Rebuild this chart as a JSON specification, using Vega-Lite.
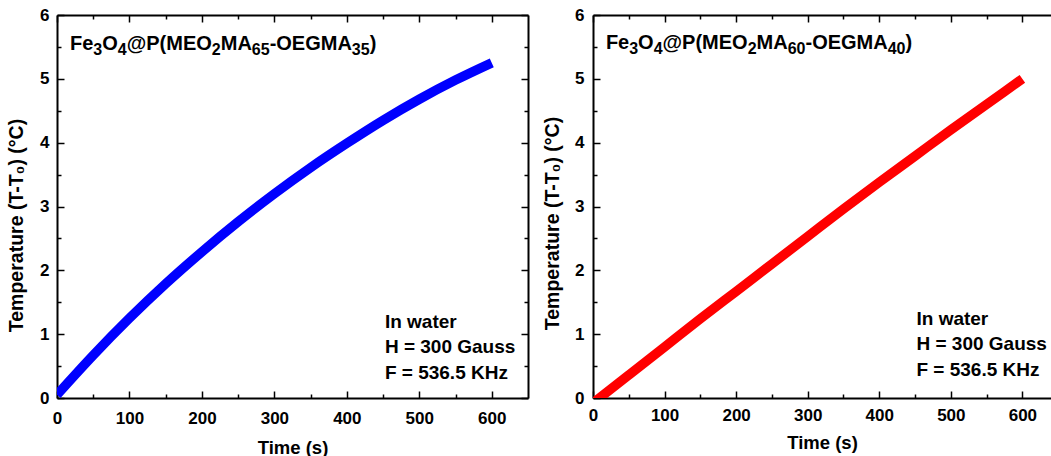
{
  "$schema": "https://vega.github.io/schema/vega-lite/v6.json",
  "padding": {"left": 6, "top": 6, "right": 0, "bottom": 0},
  "background": "white",
  "spacing": 65,
  "bounds": "flush",
  "datasets": {
    "a": [
      {"t": 0, "T": 0.05}, {"t": 50, "T": 0.67}, {"t": 100, "T": 1.25}, {"t": 150, "T": 1.79},
      {"t": 200, "T": 2.29}, {"t": 250, "T": 2.76}, {"t": 300, "T": 3.20}, {"t": 350, "T": 3.61},
      {"t": 400, "T": 3.99}, {"t": 450, "T": 4.35}, {"t": 500, "T": 4.68}, {"t": 550, "T": 4.98},
      {"t": 600, "T": 5.25}
    ],
    "b": [
      {"t": 0, "T": -0.08}, {"t": 50, "T": 0.36}, {"t": 100, "T": 0.80}, {"t": 150, "T": 1.24},
      {"t": 200, "T": 1.67}, {"t": 250, "T": 2.10}, {"t": 300, "T": 2.53}, {"t": 350, "T": 2.96},
      {"t": 400, "T": 3.38}, {"t": 450, "T": 3.79}, {"t": 500, "T": 4.20}, {"t": 550, "T": 4.60},
      {"t": 600, "T": 5.00}
    ],
    "one": [{}]
  },
  "hconcat": [
    {
      "width": 471,
      "height": 383,
      "layer": [
        {
          "data": {"name": "a"},
          "mark": {"type": "line", "color": "#0000ff", "strokeWidth": 9.5, "strokeCap": "butt", "interpolate": "monotone", "clip": true},
          "encoding": {
            "x": {"field": "t", "type": "quantitative", "scale": {"domain": [0, 650]},
              "axis": {"orient": "bottom", "values": [0,100,200,300,400,500,600], "format": "d", "tickSize": -7,
                "labelPadding": 19, "title": "Time (s)", "titlePadding": 12}},
            "y": {"field": "T", "type": "quantitative", "scale": {"domain": [0, 6]},
              "axis": {"orient": "left", "values": [0,1,2,3,4,5,6], "format": "d", "tickSize": -7,
                "labelPadding": 15, "title": "Temperature (T-T₀) (°C)", "titlePadding": 13, "titleY": 210}}
          }
        },
        {
          "data": {"name": "a"},
          "mark": {"type": "line", "opacity": 0},
          "encoding": {
            "x": {"field": "t", "type": "quantitative", "scale": {"domain": [0, 650]},
              "axis": {"orient": "bottom", "values": [50,150,250,350,450,550], "labels": false, "title": null, "domain": false, "tickSize": -4}},
            "y": {"field": "T", "type": "quantitative", "scale": {"domain": [0, 6]},
              "axis": {"orient": "left", "values": [0.5,1.5,2.5,3.5,4.5,5.5], "labels": false, "title": null, "domain": false, "tickSize": -4}}
          }
        },
        {
          "data": {"name": "a"},
          "mark": {"type": "line", "opacity": 0},
          "encoding": {
            "x": {"field": "t", "type": "quantitative", "scale": {"domain": [0, 650]},
              "axis": {"orient": "top", "values": [0,100,200,300,400,500,600], "labels": false, "title": null, "tickSize": -7}},
            "y": {"field": "T", "type": "quantitative", "scale": {"domain": [0, 6]},
              "axis": {"orient": "right", "values": [0,1,2,3,4,5,6], "labels": false, "title": null, "tickSize": -7}}
          }
        },
        {
          "data": {"name": "a"},
          "mark": {"type": "line", "opacity": 0},
          "encoding": {
            "x": {"field": "t", "type": "quantitative", "scale": {"domain": [0, 650]},
              "axis": {"orient": "top", "values": [50,150,250,350,450,550], "labels": false, "title": null, "domain": false, "tickSize": -4}},
            "y": {"field": "T", "type": "quantitative", "scale": {"domain": [0, 6]},
              "axis": {"orient": "right", "values": [0.5,1.5,2.5,3.5,4.5,5.5], "labels": false, "title": null, "domain": false, "tickSize": -4}}
          }
        },
        {"data": {"name": "one"}, "mark": {"type": "text", "text": "Fe", "align": "left", "baseline": "alphabetic", "fontSize": 20, "fontWeight": "bold", "color": "black", "dx": 0},
          "encoding": {"x": {"datum": 18, "type": "quantitative", "scale": {"domain": [0, 650]}, "axis": null}, "y": {"datum": 5.45, "type": "quantitative", "scale": {"domain": [0, 6]}, "axis": null}}},
        {"data": {"name": "one"}, "mark": {"type": "text", "text": "3", "align": "left", "baseline": "alphabetic", "fontSize": 16, "fontWeight": "bold", "color": "black", "dx": 23.3, "dy": 5},
          "encoding": {"x": {"datum": 18, "type": "quantitative", "scale": {"domain": [0, 650]}, "axis": null}, "y": {"datum": 5.45, "type": "quantitative", "scale": {"domain": [0, 6]}, "axis": null}}},
        {"data": {"name": "one"}, "mark": {"type": "text", "text": "O", "align": "left", "baseline": "alphabetic", "fontSize": 20, "fontWeight": "bold", "color": "black", "dx": 32.2},
          "encoding": {"x": {"datum": 18, "type": "quantitative", "scale": {"domain": [0, 650]}, "axis": null}, "y": {"datum": 5.45, "type": "quantitative", "scale": {"domain": [0, 6]}, "axis": null}}},
        {"data": {"name": "one"}, "mark": {"type": "text", "text": "4", "align": "left", "baseline": "alphabetic", "fontSize": 16, "fontWeight": "bold", "color": "black", "dx": 47.8, "dy": 5},
          "encoding": {"x": {"datum": 18, "type": "quantitative", "scale": {"domain": [0, 650]}, "axis": null}, "y": {"datum": 5.45, "type": "quantitative", "scale": {"domain": [0, 6]}, "axis": null}}},
        {"data": {"name": "one"}, "mark": {"type": "text", "text": "@P(MEO", "align": "left", "baseline": "alphabetic", "fontSize": 20, "fontWeight": "bold", "color": "black", "dx": 56.7},
          "encoding": {"x": {"datum": 18, "type": "quantitative", "scale": {"domain": [0, 650]}, "axis": null}, "y": {"datum": 5.45, "type": "quantitative", "scale": {"domain": [0, 6]}, "axis": null}}},
        {"data": {"name": "one"}, "mark": {"type": "text", "text": "2", "align": "left", "baseline": "alphabetic", "fontSize": 16, "fontWeight": "bold", "color": "black", "dx": 141.8, "dy": 5},
          "encoding": {"x": {"datum": 18, "type": "quantitative", "scale": {"domain": [0, 650]}, "axis": null}, "y": {"datum": 5.45, "type": "quantitative", "scale": {"domain": [0, 6]}, "axis": null}}},
        {"data": {"name": "one"}, "mark": {"type": "text", "text": "MA", "align": "left", "baseline": "alphabetic", "fontSize": 20, "fontWeight": "bold", "color": "black", "dx": 150.7},
          "encoding": {"x": {"datum": 18, "type": "quantitative", "scale": {"domain": [0, 650]}, "axis": null}, "y": {"datum": 5.45, "type": "quantitative", "scale": {"domain": [0, 6]}, "axis": null}}},
        {"data": {"name": "one"}, "mark": {"type": "text", "text": "65", "align": "left", "baseline": "alphabetic", "fontSize": 16, "fontWeight": "bold", "color": "black", "dx": 181.8, "dy": 5},
          "encoding": {"x": {"datum": 18, "type": "quantitative", "scale": {"domain": [0, 650]}, "axis": null}, "y": {"datum": 5.45, "type": "quantitative", "scale": {"domain": [0, 6]}, "axis": null}}},
        {"data": {"name": "one"}, "mark": {"type": "text", "text": "-OEGMA", "align": "left", "baseline": "alphabetic", "fontSize": 20, "fontWeight": "bold", "color": "black", "dx": 199.6},
          "encoding": {"x": {"datum": 18, "type": "quantitative", "scale": {"domain": [0, 650]}, "axis": null}, "y": {"datum": 5.45, "type": "quantitative", "scale": {"domain": [0, 6]}, "axis": null}}},
        {"data": {"name": "one"}, "mark": {"type": "text", "text": "35", "align": "left", "baseline": "alphabetic", "fontSize": 16, "fontWeight": "bold", "color": "black", "dx": 281.8, "dy": 5},
          "encoding": {"x": {"datum": 18, "type": "quantitative", "scale": {"domain": [0, 650]}, "axis": null}, "y": {"datum": 5.45, "type": "quantitative", "scale": {"domain": [0, 6]}, "axis": null}}},
        {"data": {"name": "one"}, "mark": {"type": "text", "text": ")", "align": "left", "baseline": "alphabetic", "fontSize": 20, "fontWeight": "bold", "color": "black", "dx": 299.6},
          "encoding": {"x": {"datum": 18, "type": "quantitative", "scale": {"domain": [0, 650]}, "axis": null}, "y": {"datum": 5.45, "type": "quantitative", "scale": {"domain": [0, 6]}, "axis": null}}},
        {
          "data": {"name": "one"},
          "mark": {"type": "text", "text": ["In water", "H = 300 Gauss", "F = 536.5 KHz"], "lineHeight": 25.5, "align": "left", "baseline": "alphabetic", "fontSize": 19, "fontWeight": "bold", "color": "black"},
          "encoding": {
            "x": {"datum": 452.5, "type": "quantitative", "scale": {"domain": [0, 650]}, "axis": null},
            "y": {"datum": 1.10, "type": "quantitative", "scale": {"domain": [0, 6]}, "axis": null}
          }
        }
      ],
      "resolve": {"axis": {"x": "independent", "y": "independent"}}
    },
    {
      "width": 458,
      "height": 383,
      "layer": [
        {
          "data": {"name": "b"},
          "mark": {"type": "line", "color": "#ff0000", "strokeWidth": 9.5, "strokeCap": "butt", "interpolate": "monotone", "clip": true},
          "encoding": {
            "x": {"field": "t", "type": "quantitative", "scale": {"domain": [0, 640]},
              "axis": {"orient": "bottom", "values": [0,100,200,300,400,500,600], "format": "d", "tickSize": -7,
                "labelPadding": 16, "title": "Time (s)", "titlePadding": 10}},
            "y": {"field": "T", "type": "quantitative", "scale": {"domain": [0, 6]},
              "axis": {"orient": "left", "values": [0,1,2,3,4,5,6], "format": "d", "tickSize": -7,
                "labelPadding": 16, "title": "Temperature (T-T₀) (°C)", "titlePadding": 12, "titleY": 208}}
          }
        },
        {
          "data": {"name": "b"},
          "mark": {"type": "line", "opacity": 0},
          "encoding": {
            "x": {"field": "t", "type": "quantitative", "scale": {"domain": [0, 640]},
              "axis": {"orient": "bottom", "values": [50,150,250,350,450,550], "labels": false, "title": null, "domain": false, "tickSize": -4}},
            "y": {"field": "T", "type": "quantitative", "scale": {"domain": [0, 6]},
              "axis": {"orient": "left", "values": [0.5,1.5,2.5,3.5,4.5,5.5], "labels": false, "title": null, "domain": false, "tickSize": -4}}
          }
        },
        {
          "data": {"name": "b"},
          "mark": {"type": "line", "opacity": 0},
          "encoding": {
            "x": {"field": "t", "type": "quantitative", "scale": {"domain": [0, 640]},
              "axis": {"orient": "top", "values": [0,100,200,300,400,500,600], "labels": false, "title": null, "tickSize": -7}},
            "y": {"field": "T", "type": "quantitative", "scale": {"domain": [0, 6]}, "axis": null}
          }
        },
        {
          "data": {"name": "b"},
          "mark": {"type": "line", "opacity": 0},
          "encoding": {
            "x": {"field": "t", "type": "quantitative", "scale": {"domain": [0, 640]},
              "axis": {"orient": "top", "values": [50,150,250,350,450,550], "labels": false, "title": null, "domain": false, "tickSize": -4}},
            "y": {"field": "T", "type": "quantitative", "scale": {"domain": [0, 6]}, "axis": null}
          }
        },
        {"data": {"name": "one"}, "mark": {"type": "text", "text": "Fe", "align": "left", "baseline": "alphabetic", "fontSize": 20, "fontWeight": "bold", "color": "black", "dx": 0},
          "encoding": {"x": {"datum": 18, "type": "quantitative", "scale": {"domain": [0, 640]}, "axis": null}, "y": {"datum": 5.46, "type": "quantitative", "scale": {"domain": [0, 6]}, "axis": null}}},
        {"data": {"name": "one"}, "mark": {"type": "text", "text": "3", "align": "left", "baseline": "alphabetic", "fontSize": 16, "fontWeight": "bold", "color": "black", "dx": 23.3, "dy": 5},
          "encoding": {"x": {"datum": 18, "type": "quantitative", "scale": {"domain": [0, 640]}, "axis": null}, "y": {"datum": 5.46, "type": "quantitative", "scale": {"domain": [0, 6]}, "axis": null}}},
        {"data": {"name": "one"}, "mark": {"type": "text", "text": "O", "align": "left", "baseline": "alphabetic", "fontSize": 20, "fontWeight": "bold", "color": "black", "dx": 32.2},
          "encoding": {"x": {"datum": 18, "type": "quantitative", "scale": {"domain": [0, 640]}, "axis": null}, "y": {"datum": 5.46, "type": "quantitative", "scale": {"domain": [0, 6]}, "axis": null}}},
        {"data": {"name": "one"}, "mark": {"type": "text", "text": "4", "align": "left", "baseline": "alphabetic", "fontSize": 16, "fontWeight": "bold", "color": "black", "dx": 47.8, "dy": 5},
          "encoding": {"x": {"datum": 18, "type": "quantitative", "scale": {"domain": [0, 640]}, "axis": null}, "y": {"datum": 5.46, "type": "quantitative", "scale": {"domain": [0, 6]}, "axis": null}}},
        {"data": {"name": "one"}, "mark": {"type": "text", "text": "@P(MEO", "align": "left", "baseline": "alphabetic", "fontSize": 20, "fontWeight": "bold", "color": "black", "dx": 56.7},
          "encoding": {"x": {"datum": 18, "type": "quantitative", "scale": {"domain": [0, 640]}, "axis": null}, "y": {"datum": 5.46, "type": "quantitative", "scale": {"domain": [0, 6]}, "axis": null}}},
        {"data": {"name": "one"}, "mark": {"type": "text", "text": "2", "align": "left", "baseline": "alphabetic", "fontSize": 16, "fontWeight": "bold", "color": "black", "dx": 141.8, "dy": 5},
          "encoding": {"x": {"datum": 18, "type": "quantitative", "scale": {"domain": [0, 640]}, "axis": null}, "y": {"datum": 5.46, "type": "quantitative", "scale": {"domain": [0, 6]}, "axis": null}}},
        {"data": {"name": "one"}, "mark": {"type": "text", "text": "MA", "align": "left", "baseline": "alphabetic", "fontSize": 20, "fontWeight": "bold", "color": "black", "dx": 150.7},
          "encoding": {"x": {"datum": 18, "type": "quantitative", "scale": {"domain": [0, 640]}, "axis": null}, "y": {"datum": 5.46, "type": "quantitative", "scale": {"domain": [0, 6]}, "axis": null}}},
        {"data": {"name": "one"}, "mark": {"type": "text", "text": "60", "align": "left", "baseline": "alphabetic", "fontSize": 16, "fontWeight": "bold", "color": "black", "dx": 181.8, "dy": 5},
          "encoding": {"x": {"datum": 18, "type": "quantitative", "scale": {"domain": [0, 640]}, "axis": null}, "y": {"datum": 5.46, "type": "quantitative", "scale": {"domain": [0, 6]}, "axis": null}}},
        {"data": {"name": "one"}, "mark": {"type": "text", "text": "-OEGMA", "align": "left", "baseline": "alphabetic", "fontSize": 20, "fontWeight": "bold", "color": "black", "dx": 199.6},
          "encoding": {"x": {"datum": 18, "type": "quantitative", "scale": {"domain": [0, 640]}, "axis": null}, "y": {"datum": 5.46, "type": "quantitative", "scale": {"domain": [0, 6]}, "axis": null}}},
        {"data": {"name": "one"}, "mark": {"type": "text", "text": "40", "align": "left", "baseline": "alphabetic", "fontSize": 16, "fontWeight": "bold", "color": "black", "dx": 281.8, "dy": 5},
          "encoding": {"x": {"datum": 18, "type": "quantitative", "scale": {"domain": [0, 640]}, "axis": null}, "y": {"datum": 5.46, "type": "quantitative", "scale": {"domain": [0, 6]}, "axis": null}}},
        {"data": {"name": "one"}, "mark": {"type": "text", "text": ")", "align": "left", "baseline": "alphabetic", "fontSize": 20, "fontWeight": "bold", "color": "black", "dx": 299.6},
          "encoding": {"x": {"datum": 18, "type": "quantitative", "scale": {"domain": [0, 640]}, "axis": null}, "y": {"datum": 5.46, "type": "quantitative", "scale": {"domain": [0, 6]}, "axis": null}}},
        {
          "data": {"name": "one"},
          "mark": {"type": "text", "text": ["In water", "H = 300 Gauss", "F = 536.5 KHz"], "lineHeight": 25.5, "align": "left", "baseline": "alphabetic", "fontSize": 19, "fontWeight": "bold", "color": "black"},
          "encoding": {
            "x": {"datum": 452, "type": "quantitative", "scale": {"domain": [0, 640]}, "axis": null},
            "y": {"datum": 1.145, "type": "quantitative", "scale": {"domain": [0, 6]}, "axis": null}
          }
        }
      ],
      "resolve": {"axis": {"x": "independent", "y": "independent"}}
    }
  ],
  "config": {
    "font": "Liberation Sans",
    "view": {"stroke": null},
    "text": {"font": "Liberation Sans"},
    "axis": {
      "grid": false,
      "labelFont": "Liberation Sans", "labelFontSize": 17, "labelFontWeight": "bold", "labelColor": "black",
      "titleFont": "Liberation Sans", "titleFontSize": 18.5, "titleFontWeight": "bold", "titleColor": "black",
      "domainColor": "black", "domainWidth": 2, "tickColor": "black", "tickWidth": 1.5,
      "labelFlush": false, "labelOverlap": false
    },
    "axisLeft": {"titleFontSize": 19.5}
  }
}
